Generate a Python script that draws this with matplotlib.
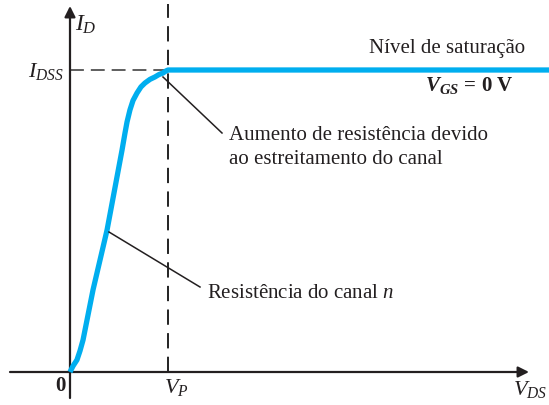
import matplotlib
matplotlib.use("Agg")
import matplotlib.pyplot as plt

plt.rcParams['font.family'] = ['Liberation Serif', 'DejaVu Serif']
plt.rcParams['mathtext.fontset'] = 'custom'
plt.rcParams['mathtext.rm'] = 'Liberation Serif'
plt.rcParams['mathtext.it'] = 'Liberation Serif:italic'
plt.rcParams['mathtext.bf'] = 'Liberation Serif:bold'
plt.rcParams['mathtext.bfit'] = 'Liberation Serif:italic:bold'
plt.rcParams['lines.scale_dashes'] = False

# Data (normalised units: V_DS / V_P, I_D / I_DSS)
vds = [0.0, 0.031, 0.071, 0.102, 0.133, 0.184, 0.235, 0.378, 0.531, 0.561,
       0.582, 0.612, 0.643, 0.684, 0.724, 0.765, 0.816, 0.867, 0.908, 0.949,
       0.980, 1.0, 4.89]
id_ = [0.0, 0.020, 0.040, 0.070, 0.106, 0.189, 0.272, 0.470, 0.735, 0.791,
       0.828, 0.868, 0.899, 0.924, 0.944, 0.957, 0.969, 0.977, 0.985, 0.990,
       0.997, 1.0, 1.0]
vp = 1.0
idss = 1.0

x_ticks = ["0", "$V_P$"]
y_ticks = ["$I_{DSS}$"]

# pixel -> data helper (layout only)
X0, Y0, SX, SY = 70.0, 372.0, 98.0, 302.0
def P(px, py):
    return ((px - X0) / SX, (Y0 - py) / SY)

fig = plt.figure(figsize=(5.49, 4.05), dpi=100)
ax = fig.add_axes([0, 0, 1, 1])
ax.set_xlim(P(0, 0)[0], P(549, 0)[0])
ax.set_ylim(P(0, 405)[1], P(0, 0)[1])
ax.axis('off')

axc = '#231f20'
# axes with arrows
ax.annotate('', xy=P(529, 372), xytext=P(10, 372),
            arrowprops=dict(arrowstyle='-|>', lw=1.6, color=axc,
                            mutation_scale=16, shrinkA=0, shrinkB=0))
ax.annotate('', xy=P(70, 6), xytext=P(70, 398),
            arrowprops=dict(arrowstyle='-|>', lw=1.6, color=axc,
                            mutation_scale=16, shrinkA=0, shrinkB=0))

# dashed reference lines
ax.plot([P(70, 0)[0], vp], [idss, idss], color='#333333', lw=1.1,
        dashes=(10, 5))
ax.plot([vp, vp], [0, P(0, 4)[1]], color='#222222', lw=1.4,
        dashes=(11, 6))

# curve
ax.plot(vds, id_, color='#00aeef', lw=3.8, solid_capstyle='butt',
        solid_joinstyle='round', zorder=5)

# annotation lines
ax.plot([P(163, 77)[0], P(222, 133)[0]], [P(163, 77)[1], P(222, 133)[1]],
        color='#231f20', lw=1.1, zorder=6)
ax.plot([P(109, 232)[0], P(200, 287)[0]], [P(109, 232)[1], P(200, 287)[1]],
        color='#231f20', lw=1.1, zorder=6)

tc = '#231f20'
fs = 15
ax.text(*P(60, 386), x_ticks[0], fontsize=15, fontweight='bold', ha='center',
        va='center', color=tc)
ax.text(*P(176, 387), x_ticks[1], fontsize=16, ha='center', va='center', color=tc)
ax.text(*P(530, 390), "$V_{DS}$", fontsize=16, ha='center', va='center', color=tc)
ax.text(*P(86, 25), "$I_D$", fontsize=17, ha='center', va='center', color=tc)
ax.text(*P(46, 71), y_ticks[0], fontsize=16, ha='center', va='center', color=tc)

ax.text(*P(525, 49), "Nível de saturação", fontsize=fs, ha='right',
        va='center', color=tc)
ax.text(*P(514, 86), r"$\mathbfit{V}_{\mathbfit{GS}}\,\mathbf{=\,0\ V}$",
        fontsize=15, ha='right', va='center', color=tc)
ax.text(*P(229, 135), "Aumento de resistência devido", fontsize=fs,
        ha='left', va='center', color=tc)
ax.text(*P(229, 160), "ao estreitamento do canal", fontsize=fs,
        ha='left', va='center', color=tc)
ax.text(*P(207, 293), "Resistência do canal $n$", fontsize=fs,
        ha='left', va='center', color=tc)

fig.savefig("out.png", dpi=100)
